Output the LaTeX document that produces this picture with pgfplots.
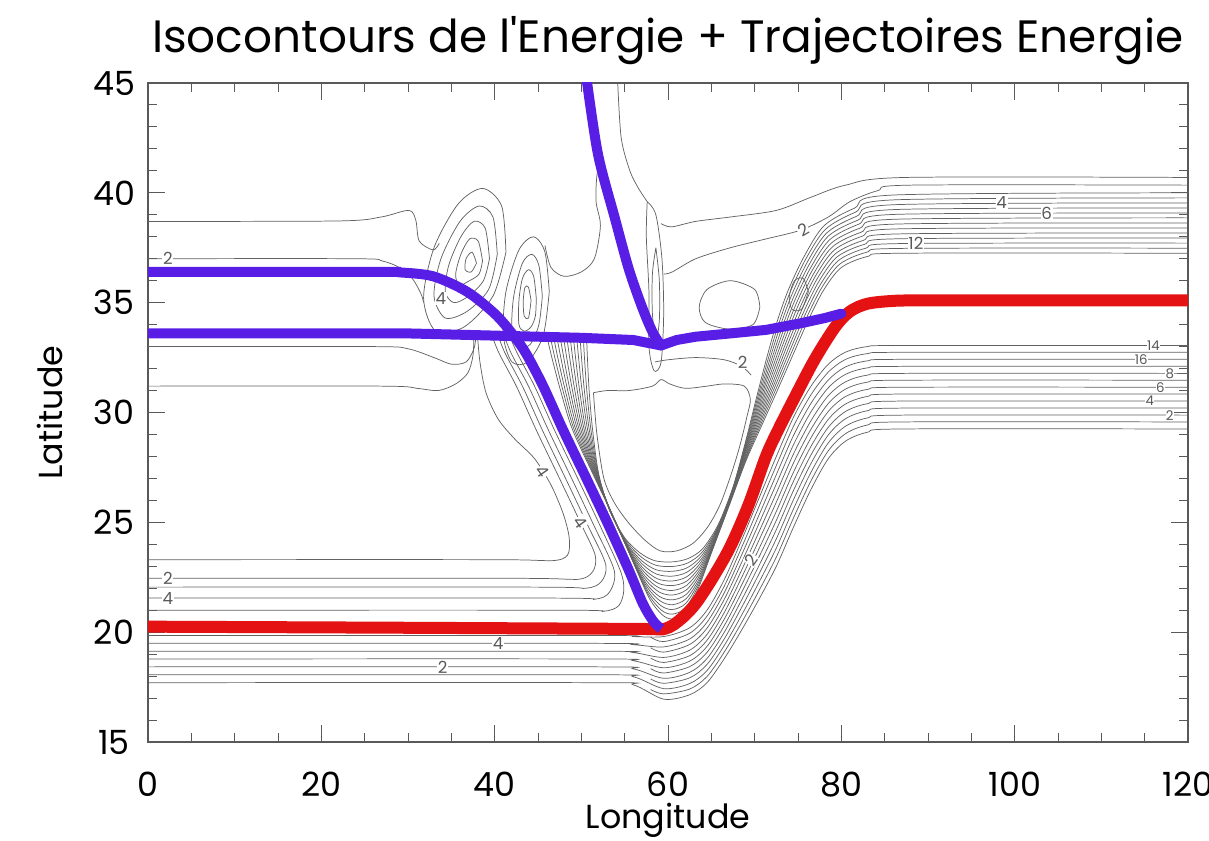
\documentclass[border=0pt]{standalone}
\usepackage{pgfplots}
\pgfplotsset{compat=1.18}
\usepackage{fontspec}
\setmainfont{Poppins}
\definecolor{trajred}{RGB}{228,18,18}
\definecolor{trajblue}{RGB}{88,30,230}
\pgfplotsset{ct/.style={color=black!62, line width=0.55pt, smooth, no markers, forget plot}}
\begin{document}
\begin{tikzpicture}
\useasboundingbox (-111pt,-74.25pt) rectangle (795.75pt,556.5pt);
\begin{axis}[
  at={(0,0)}, anchor=south west,
  width=780pt, height=494.25pt, scale only axis,
  xmin=0, xmax=120, ymin=15, ymax=45,
  xtick={0,20,...,120}, ytick={15,20,...,45},
  minor x tick num=3, minor y tick num=4,
  tick align=inside, major tick length=13pt, minor tick length=7pt,
  axis line style={black!65, line width=0.9pt},
  tick style={black!65, line width=0.7pt},
  tick label style={font=\fontsize{25}{30}\selectfont},
  /pgf/number format/assume math mode=true,
  xticklabel style={anchor=center, yshift=-32pt},
  yticklabel style={anchor=center, xshift=-25.5pt},
  xlabel={Longitude}, ylabel={Latitude},
  label style={font=\fontsize{25}{30}\selectfont},
  xlabel style={at={(axis description cs:0.5,-0.1184)}, anchor=center},
  ylabel style={at={(axis description cs:-0.0942,0.5)}, anchor=center},
  title={Isocontours de l\textquotesingle Energie + Trajectoires Energie},
  title style={font=\fontsize{34}{40}\selectfont, at={(axis description cs:0.5,1)}, anchor=center, yshift=25.5pt},
]
% ---------- outer V family (lower-left band -> V bottom -> lower-right band)
\addplot[ct] coordinates {(0,19.85)(52,19.85)(56,19.8)(59.5,19.8)(62.5,20.2)(64.5,21.0)(66.5,22.4)(68.5,24.2)(70.5,26.1)(72.5,28.0)(74.5,29.8)(76.5,31.2)(78.5,32.2)(80.5,32.75)(83,33.0)(87,33.05)(120,33.05)};
\addplot[ct] coordinates {(0,19.49)(52,19.49)(56,19.43)(59.5,19.33)(62.5,19.69)(64.5,20.45)(66.5,21.8)(68.5,23.52)(70.5,25.33)(72.5,27.17)(74.5,28.97)(76.5,30.42)(78.5,31.48)(80.5,32.08)(83,32.35)(87,32.42)(120,32.42)};
\addplot[ct] coordinates {(0,19.13)(52,19.13)(56,19.07)(59.5,18.85)(62.5,19.18)(64.5,19.9)(66.5,21.2)(68.5,22.83)(70.5,24.57)(72.5,26.33)(74.5,28.13)(76.5,29.63)(78.5,30.77)(80.5,31.4)(83,31.7)(87,31.78)(120,31.78)};
\addplot[ct] coordinates {(0,18.78)(52,18.78)(56,18.70)(59.5,18.38)(62.5,18.68)(64.5,19.35)(66.5,20.6)(68.5,22.15)(70.5,23.8)(72.5,25.5)(74.5,27.3)(76.5,28.85)(78.5,30.05)(80.5,30.73)(83,31.05)(87,31.15)(120,31.15)};
\addplot[ct] coordinates {(0,18.42)(52,18.42)(56,18.33)(59.5,17.9)(62.5,18.17)(64.5,18.8)(66.5,20.0)(68.5,21.47)(70.5,23.03)(72.5,24.67)(74.5,26.47)(76.5,28.07)(78.5,29.33)(80.5,30.05)(83,30.4)(87,30.52)(120,30.52)};
\addplot[ct] coordinates {(0,18.06)(52,18.06)(56,17.97)(59.5,17.43)(62.5,17.66)(64.5,18.25)(66.5,19.4)(68.5,20.78)(70.5,22.27)(72.5,23.83)(74.5,25.63)(76.5,27.28)(78.5,28.62)(80.5,29.38)(83,29.75)(87,29.88)(120,29.88)};
\addplot[ct] coordinates {(0,17.7)(52,17.7)(56,17.6)(59.5,16.95)(62.5,17.15)(64.5,17.7)(66.5,18.8)(68.5,20.1)(70.5,21.5)(72.5,23.0)(74.5,24.8)(76.5,26.5)(78.5,27.9)(80.5,28.7)(83,29.1)(87,29.25)(120,29.25)};
% intermediate lines of the V (start at the neck)
\addplot[ct] coordinates {(58,19.77)(59.5,19.57)(62.5,19.95)(64.5,20.73)(66.5,22.1)(68.5,23.86)(70.5,25.72)(72.5,27.59)(74.5,29.39)(76.5,30.81)(78.5,31.84)(80.5,32.42)(83,32.68)(87,32.74)(120,32.74)};
\addplot[ct] coordinates {(58,19.29)(59.5,19.09)(62.5,19.44)(64.5,20.18)(66.5,21.5)(68.5,23.18)(70.5,24.95)(72.5,26.75)(74.5,28.55)(76.5,30.03)(78.5,31.13)(80.5,31.74)(83,32.03)(87,32.1)(120,32.1)};
\addplot[ct] coordinates {(58,18.82)(59.5,18.62)(62.5,18.93)(64.5,19.63)(66.5,20.9)(68.5,22.49)(70.5,24.19)(72.5,25.92)(74.5,27.72)(76.5,29.24)(78.5,30.41)(80.5,31.07)(83,31.38)(87,31.47)(120,31.47)};
\addplot[ct] coordinates {(58,18.34)(59.5,18.14)(62.5,18.43)(64.5,19.08)(66.5,20.3)(68.5,21.81)(70.5,23.42)(72.5,25.09)(74.5,26.89)(76.5,28.46)(78.5,29.69)(80.5,30.39)(83,30.73)(87,30.84)(120,30.84)};
\addplot[ct] coordinates {(58,17.87)(59.5,17.67)(62.5,17.92)(64.5,18.53)(66.5,19.7)(68.5,21.13)(70.5,22.65)(72.5,24.25)(74.5,26.05)(76.5,27.68)(78.5,28.98)(80.5,29.72)(83,30.08)(87,30.2)(120,30.2)};
\addplot[ct] coordinates {(58,17.39)(59.5,17.19)(62.5,17.41)(64.5,17.98)(66.5,19.1)(68.5,20.44)(70.5,21.89)(72.5,23.42)(74.5,25.22)(76.5,26.89)(78.5,28.26)(80.5,29.04)(83,29.43)(87,29.57)(120,29.57)};
% ---------- inner V family (left arm -> V bottom -> upper-right band)
\addplot[ct] coordinates {(46.0,33.5)(46.6,32.5)(47.6,31.0)(49.0,29.2)(51.7,26.9)(54.1,24.9)(56.4,22.8)(57.9,21.5)(59.3,20.8)(60.5,20.6)(62,20.9)(63.5,22.0)(65,23.6)(67,25.7)(69,27.8)(70.8,29.4)(72.5,30.9)(74.5,32.7)(76.3,34.3)(78,35.6)(80,36.6)(83,37.1)(87,37.25)(120,37.25)};
\addplot[ct] coordinates {(46.39,33.5)(46.94,32.5)(47.88,31.0)(49.19,29.2)(51.73,26.93)(54.03,24.96)(56.29,22.93)(57.81,21.68)(59.24,21.0)(60.5,20.82)(62.03,21.11)(63.54,22.15)(65.07,23.71)(67.04,25.78)(68.99,27.87)(70.74,29.49)(72.39,31.01)(74.33,32.8)(76.09,34.4)(77.81,35.73)(79.84,36.76)(82.88,37.29)(86.92,37.47)(120,37.48)};
\addplot[ct] coordinates {(46.77,33.5)(47.28,32.5)(48.15,31.0)(49.38,29.2)(51.75,26.95)(53.95,25.02)(56.17,23.05)(57.72,21.85)(59.17,21.21)(60.5,21.03)(62.05,21.31)(63.58,22.3)(65.13,23.82)(67.08,25.85)(68.98,27.93)(70.68,29.58)(72.28,31.12)(74.15,32.9)(75.88,34.5)(77.62,35.85)(79.67,36.92)(82.75,37.47)(86.83,37.69)(120,37.71)};
\addplot[ct] coordinates {(47.15,33.5)(47.63,32.5)(48.43,31.0)(49.58,29.2)(51.78,26.98)(53.88,25.08)(56.05,23.18)(57.63,22.03)(59.1,21.42)(60.5,21.25)(62.08,21.52)(63.63,22.45)(65.2,23.93)(67.13,25.93)(68.98,28.0)(70.63,29.68)(72.18,31.23)(73.98,33.0)(75.68,34.6)(77.43,35.98)(79.5,37.08)(82.63,37.65)(86.75,37.91)(120,37.94)};
\addplot[ct] coordinates {(47.53,33.5)(47.97,32.5)(48.7,31.0)(49.77,29.2)(51.8,27.0)(53.8,25.13)(55.93,23.3)(57.53,22.2)(59.03,21.62)(60.5,21.47)(62.1,21.72)(63.67,22.6)(65.27,24.03)(67.17,26.0)(68.97,28.07)(70.57,29.77)(72.07,31.33)(73.8,33.1)(75.47,34.7)(77.23,36.1)(79.33,37.23)(82.5,37.83)(86.67,38.13)(120,38.17)};
\addplot[ct] coordinates {(47.92,33.5)(48.31,32.5)(48.98,31.0)(49.96,29.2)(51.83,27.03)(53.73,25.19)(55.82,23.43)(57.44,22.38)(58.97,21.83)(60.5,21.69)(62.13,21.93)(63.71,22.75)(65.34,24.14)(67.21,26.08)(68.96,28.14)(70.51,29.86)(71.96,31.44)(73.63,33.2)(75.26,34.8)(77.04,36.23)(79.17,37.39)(82.38,38.02)(86.59,38.36)(120,38.4)};
\addplot[ct] coordinates {(48.3,33.5)(48.65,32.5)(49.25,31.0)(50.15,29.2)(51.85,27.05)(53.65,25.25)(55.7,23.55)(57.35,22.55)(58.9,22.03)(60.5,21.9)(62.15,22.13)(63.75,22.9)(65.4,24.25)(67.25,26.15)(68.95,28.2)(70.45,29.95)(71.85,31.55)(73.45,33.3)(75.05,34.9)(76.85,36.35)(79.0,37.55)(82.25,38.2)(86.5,38.58)(120,38.63)};
\addplot[ct] coordinates {(48.69,33.5)(48.99,32.5)(49.53,31.0)(50.34,29.2)(51.88,27.08)(53.58,25.31)(55.59,23.68)(57.26,22.73)(58.84,22.23)(60.5,22.12)(62.18,22.33)(63.79,23.05)(65.47,24.36)(67.29,26.23)(68.94,28.27)(70.39,30.04)(71.74,31.66)(73.28,33.4)(74.84,35.0)(76.66,36.48)(78.84,37.71)(82.13,38.39)(86.42,38.8)(120,38.86)};
\addplot[ct] coordinates {(49.07,33.5)(49.33,32.5)(49.8,31.0)(50.53,29.2)(51.9,27.1)(53.5,25.37)(55.47,23.8)(57.17,22.9)(58.77,22.43)(60.5,22.33)(62.2,22.53)(63.83,23.2)(65.53,24.47)(67.33,26.3)(68.93,28.33)(70.33,30.13)(71.63,31.77)(73.1,33.5)(74.63,35.1)(76.47,36.6)(78.67,37.87)(82.0,38.57)(86.33,39.02)(120,39.08)};
\addplot[ct] coordinates {(49.45,33.5)(49.68,32.5)(50.08,31.0)(50.73,29.2)(51.93,27.13)(53.43,25.43)(55.35,23.93)(57.08,23.08)(58.7,22.64)(60.5,22.55)(62.23,22.74)(63.88,23.35)(65.6,24.58)(67.38,26.38)(68.93,28.4)(70.28,30.23)(71.53,31.88)(72.93,33.6)(74.43,35.2)(76.28,36.73)(78.5,38.03)(81.88,38.75)(86.25,39.24)(120,39.31)};
\addplot[ct] coordinates {(49.83,33.5)(50.02,32.5)(50.35,31.0)(50.92,29.2)(51.95,27.15)(53.35,25.48)(55.23,24.05)(56.98,23.25)(58.63,22.84)(60.5,22.77)(62.25,22.94)(63.92,23.5)(65.67,24.68)(67.42,26.45)(68.92,28.47)(70.22,30.32)(71.42,31.98)(72.75,33.7)(74.22,35.3)(76.08,36.85)(78.33,38.18)(81.75,38.93)(86.17,39.46)(120,39.54)};
\addplot[ct] coordinates {(50.22,33.5)(50.36,32.5)(50.63,31.0)(51.11,29.2)(51.98,27.18)(53.28,25.54)(55.12,24.18)(56.89,23.43)(58.57,23.05)(60.5,22.99)(62.28,23.15)(63.96,23.65)(65.74,24.79)(67.46,26.53)(68.91,28.54)(70.16,30.41)(71.31,32.09)(72.58,33.8)(74.01,35.4)(75.89,36.98)(78.17,38.34)(81.63,39.12)(86.09,39.68)(120,39.77)};
\addplot[ct] coordinates {(50.6,33.5)(50.7,32.5)(50.9,31.0)(51.3,29.2)(52.0,27.2)(53.2,25.6)(55.0,24.3)(56.8,23.6)(58.5,23.25)(60.5,23.2)(62.3,23.35)(64.0,23.8)(65.8,24.9)(67.5,26.6)(68.9,28.6)(70.1,30.5)(71.2,32.2)(72.4,33.9)(73.8,35.5)(75.7,37.1)(78,38.5)(81.5,39.3)(86,39.9)(120,40.0)};
% ---------- interior loop of the V
\addplot[ct] coordinates {(51.4,30.9)(51.8,29.0)(52.6,27.0)(53.8,25.9)(55.4,25.0)(57.3,24.2)(59.1,23.7)(61,23.7)(62.9,24.05)(64.6,24.8)(66,25.8)(67.3,27.2)(68.3,28.5)(69.1,29.8)(69.5,30.6)(68.8,31.2)(66.5,31.3)(64.5,31.2)(62,31.1)(60.2,31.3)(59.2,31.5)(58.2,31.2)(55.5,31.0)(53,31.0)(51.4,30.9)};
% ---------- left arm lines (left of the blue track)
\addplot[ct] coordinates {(0,21.0)(48,21.0)(52.5,20.95)(54.3,21.2)(54.9,21.9)(54.5,22.8)(52.1,24.9)(49.7,26.9)(46.9,29.2)(44.6,31.2)(42.6,32.7)(41.6,33.6)};
\addplot[ct] coordinates {(0,21.55)(47,21.55)(51.5,21.5)(53.2,21.8)(53.8,22.8)(51.4,24.9)(49.0,26.9)(46.2,29.2)(43.9,31.2)(41.9,32.7)(41.0,33.6)};
\addplot[ct] coordinates {(0,22.05)(45,22.05)(50.5,22.0)(52.3,22.3)(52.8,23.1)(50.7,24.9)(48.3,26.9)(45.5,29.2)(43.2,31.2)(41.2,32.7)(40.3,33.6)};
\addplot[ct] coordinates {(0,22.45)(43,22.45)(49.5,22.4)(51.3,22.75)(51.6,23.5)(50.0,24.9)(47.6,26.9)(44.8,29.2)(42.5,31.2)(40.5,32.7)(39.6,33.6)};
\addplot[ct] coordinates {(0,23.3)(40,23.3)(46.5,23.25)(48.4,23.5)(48.6,24.3)(47.9,25.4)(46.5,26.7)(44.6,27.9)(42.3,28.8)(40.4,29.7)(39.0,30.9)(38.3,32.3)(38.0,33.6)};
% ---------- left horizontal lines
\addplot[ct] coordinates {(0,38.7)(22,38.72)(26.9,38.9)(30.1,39.2)(30.9,38.75)(31.3,37.8)(32.9,37.4)(33.6,37.7)};
\addplot[ct] coordinates {(0,37.0)(24,37.0)(27,36.9)(29,36.6)(30.5,36.1)(31.5,35.4)(31.8,35.0)};
\addplot[ct] coordinates {(0,33.0)(26,33.0)(30,32.9)(33,32.5)(35,32.2)(36.7,32.3)(37.6,32.9)(37.9,33.6)};
\addplot[ct] coordinates {(0,31.2)(27,31.2)(31,31.1)(33.5,31.0)(35.5,31.3)(36.9,31.8)(37.5,32.6)(37.6,33.6)};
% ---------- blob A
\addplot[ct] coordinates {(41.3,37.3)(40.8,39.4)(38.6,40.2)(35.8,39.5)(33.0,37.5)(31.8,35.2)(33.2,33.7)(36.5,33.9)(39.8,35.3)(41.3,37.3)};
\addplot[ct] coordinates {(40.3,37.2)(39.8,38.9)(38.2,39.4)(36.0,38.7)(33.8,37.0)(33.0,35.3)(34.3,34.3)(36.8,34.6)(39.3,35.6)(40.3,37.2)};
\addplot[ct] coordinates {(39.4,37.0)(38.9,38.4)(37.6,38.7)(36.1,38.0)(34.7,36.7)(34.3,35.5)(35.3,35.0)(37.0,35.3)(38.7,36.0)(39.4,37.0)};
\addplot[ct] coordinates {(38.6,36.9)(38.1,37.8)(37.1,37.9)(36.1,37.2)(35.5,36.3)(35.9,35.8)(37.1,36.0)(38.2,36.3)(38.6,36.9)};
\addplot[ct] coordinates {(37.9,36.8)(37.4,37.3)(36.7,37.0)(36.6,36.5)(37.3,36.4)(37.9,36.8)};
% ---------- blob B
\addplot[ct] coordinates {(46.3,35.5)(45.8,37.3)(44.5,38.0)(42.8,37.4)(41.3,35.5)(41.0,33.5)(42.0,32.3)(43.8,32.3)(45.6,33.5)(46.3,35.5)};
\addplot[ct] coordinates {(45.5,35.3)(45.1,36.7)(44.3,37.2)(43.2,36.8)(42.2,35.3)(42.0,33.8)(42.8,33.0)(44.1,33.1)(45.1,34.0)(45.5,35.3)};
\addplot[ct] coordinates {(44.8,35.2)(44.5,36.2)(43.9,36.5)(43.2,36.1)(42.8,35.1)(42.8,34.0)(43.4,33.7)(44.2,33.9)(44.7,34.4)(44.8,35.2)};
\addplot[ct] coordinates {(44.2,35.1)(43.9,35.7)(43.5,35.7)(43.3,35.1)(43.4,34.4)(43.9,34.3)(44.2,35.1)};
% ---------- wavy line between blob B and the descending track
\addplot[ct] coordinates {(45.8,37.6)(46.5,36.6)(48.0,36.2)(50.0,36.4)(51.5,37.0)(52.2,38.5)(51.7,39.6)(51.8,40.8)(52.3,41.6)};
% ---------- loops right of the descending track
\addplot[ct] coordinates {(54.2,45)(54.6,42.5)(55.6,41.0)(56.6,40.2)(57.6,39.6)};
\addplot[ct] coordinates {(57.6,39.6)(58.6,39.0)(59.3,37.0)(59.5,34.5)(59.2,32.3)(58.4,31.9)(57.8,33.0)(57.8,35.5)(57.5,38.0)(57.6,39.6)};
\addplot[ct] coordinates {(58.6,37.5)(59.0,36.0)(59.0,34.2)(58.6,33.3)(58.2,34.5)(58.2,36.3)(58.6,37.5)};
% ---------- ellipse D and small loop
\addplot[ct] coordinates {(70.6,34.8)(70.0,35.6)(67.2,36.0)(64.5,35.6)(63.6,34.8)(64.3,34.1)(67,33.8)(69.8,34.0)(70.6,34.8)};
\addplot[ct] coordinates {(76.2,35.5)(75.6,36.1)(74.6,36.0)(74.0,35.3)(74.3,34.7)(75.4,34.7)(76.2,35.5)};
% ---------- upper lines
\addplot[ct] coordinates {(120,40.7)(87.4,40.7)(80.5,40.35)(76.5,39.8)(72.5,39.2)(67.2,38.9)(63.2,38.7)(60.4,38.45)(59.2,38.6)};
\addplot[ct] coordinates {(59.5,36.3)(60.5,36.4)(63.2,37.0)(67.2,37.5)(71.3,37.9)(75.3,38.3)(78.5,38.9)(81,39.6)(84.2,40.1)(88,40.35)(120,40.35)};
\addplot[ct] coordinates {(58.5,32.3)(60,32.4)(63.2,32.5)(66.5,32.4)(68.5,32.1)(69.6,31.7)};
% ---------- contour labels
\begin{scope}[every node/.style={font=\fontsize{12.5}{14}\selectfont, text=black!65, fill=white, inner sep=0.5pt}]
\node at (axis cs:2.3,37.0) {2};
\node at (axis cs:33.8,35.2) {4};
\node at (axis cs:2.3,22.45) {2};
\node at (axis cs:2.3,21.55) {4};
\node at (axis cs:40.4,19.49) {4};
\node at (axis cs:34.0,18.42) {2};
\node at (axis cs:98.5,39.54) {4};
\node at (axis cs:103.7,39.08) {6};
\node at (axis cs:88.6,37.71) {12};
\node[rotate=30] at (axis cs:75.6,38.3) {2};
\node at (axis cs:68.6,32.3) {2};
\node[rotate=-55] at (axis cs:45.5,27.3) {4};
\node[rotate=-55] at (axis cs:49.9,25.0) {4};
\node[rotate=55] at (axis cs:69.6,23.3) {2};
\end{scope}
\begin{scope}[every node/.style={font=\fontsize{10}{11}\selectfont, text=black!65, fill=white, inner sep=0.2pt}]
\node at (axis cs:116.0,33.05) {14};
\node at (axis cs:114.6,32.42) {16};
\node at (axis cs:117.9,31.78) {8};
\node at (axis cs:116.8,31.15) {6};
\node at (axis cs:115.6,30.52) {4};
\node at (axis cs:117.9,29.88) {2};
\end{scope}
% ---------- trajectories
\addplot[trajred, line width=9pt, smooth, tension=0.5, line cap=round] coordinates {(0,20.25)(30,20.2)(56,20.15)(59.6,20.15)(61.5,20.6)(63.2,21.3)(65.2,22.5)(67.2,23.9)(69.3,25.8)(71.3,28.0)(72.7,29.2)(74.5,30.6)(76.9,32.4)(79.3,33.9)(81.0,34.6)(83,34.95)(86,35.08)(90,35.1)(120,35.1)};
\addplot[trajblue, line width=7.5pt, smooth, tension=0.5] coordinates {(0,36.4)(26.9,36.4)(29,36.38)(32.9,36.2)(36.8,35.5)(40.0,34.5)(42.0,33.6)(43.6,32.7)(45.6,31.2)(47.9,29.2)(50.7,26.9)(53.1,24.9)(55.5,22.8)(57.1,21.3)(58.3,20.5)(59.2,20.15)};
\addplot[trajblue, line width=7.5pt, line join=round, line cap=round] coordinates {(0,33.6)(30,33.6)(40,33.5)(50,33.4)(56,33.3)(59.2,33.05)(61,33.3)(63.2,33.45)(67.2,33.6)(71.3,33.76)(75.3,34.06)(78.1,34.3)(80,34.5)};
\addplot[trajblue, line width=7.5pt, smooth, tension=0.5, line cap=round] coordinates {(50.5,45.5)(51.9,41.8)(53.9,38.8)(55.5,36.5)(57.1,34.7)(58.3,33.6)(59.2,33.05)};
\end{axis}
\end{tikzpicture}
\end{document}
